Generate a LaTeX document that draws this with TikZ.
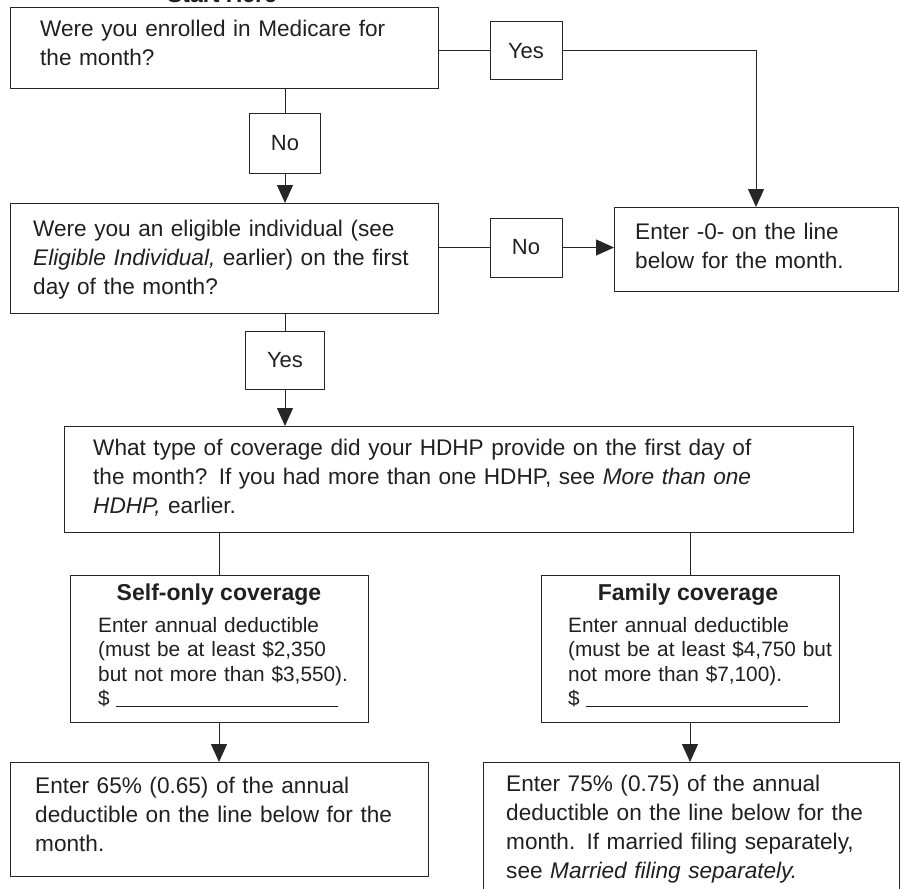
\documentclass[tikz,border=0pt]{standalone}
\usepackage{fontspec}
\setmainfont{Liberation Sans}
\usetikzlibrary{arrows.meta}
\definecolor{ln}{HTML}{262626}
\definecolor{tx}{HTML}{231F20}
\begin{document}
\begin{tikzpicture}[x=1pt,y=-1pt,
  box/.style={draw=ln, line width=1pt, inner sep=0pt, outer sep=0pt, anchor=north west},
  txt/.style={anchor=base west, align=left, text width=820pt, inner sep=0pt, text=tx,
              font=\fontsize{22.6}{29}\selectfont},
  stxt/.style={anchor=base west, align=left, text width=400pt, inner sep=0pt, text=tx,
              font=\fontsize{20.8}{24.5}\selectfont},
  lbl/.style={inner sep=0pt, text=tx, font=\fontsize{22}{26}\selectfont},
  conn/.style={draw=ln, line width=1pt},
  arr/.style={conn, -{Triangle[length=18pt,width=16pt]}}]
\useasboundingbox (0,0) rectangle (901,888);
\fill[white] (0,0) rectangle (901,888);

% start label (cut off at top, as in the reference)
\node[lbl, anchor=base, font=\fontsize{23}{26}\selectfont\bfseries] (start) at (222,3) {Start Here};

% boxes
\node[box, minimum width=428pt, minimum height=81pt] (q1) at (10,8) {};
\node[box, minimum width=72pt, minimum height=58pt] (yes1) at (490,22) {};
\node[box, minimum width=71pt, minimum height=59pt] (no1) at (249.5,114) {};
\node[box, minimum width=428pt, minimum height=110pt] (q2) at (10,203) {};
\node[box, minimum width=72pt, minimum height=59pt] (no2) at (490,218) {};
\node[box, minimum width=284pt, minimum height=84pt] (r0) at (614,207) {};
\node[box, minimum width=79pt, minimum height=58pt] (yes2) at (245.5,331) {};
\node[box, minimum width=789pt, minimum height=106pt] (q3) at (64,426) {};
\node[box, minimum width=298pt, minimum height=147pt] (s1) at (70,575) {};
\node[box, minimum width=298pt, minimum height=147pt] (s2) at (541,575) {};
\node[box, minimum width=418pt, minimum height=114pt] (r1) at (10,762) {};
\node[box, minimum width=416pt, minimum height=140pt] (r2) at (483,762) {};

% box labels
\node[lbl] (yes1t) at (yes1.center) {Yes};
\node[lbl] (no1t) at (no1.center) {No};
\node[lbl] (no2t) at (no2.center) {No};
\node[lbl] (yes2t) at (yes2.center) {Yes};

% texts
\node[txt] (q1t) at (40,37) {Were you enrolled in Medicare for\\the month?};
\node[txt] (q2t) at (33,236) {Were you an eligible individual (see\\\textit{Eligible Individual,} earlier) on the first\\day of the month?};
\node[txt] (r0t) at (635,239) {Enter -0- on the line\\below for the month.};
\node[txt] (q3t) at (93,455) {What type of coverage did your HDHP provide on the first day of\\the month? If you had more than one HDHP, see \textit{More than one}\\\textit{HDHP,} earlier.};
\node[lbl, anchor=base, font=\fontsize{23}{26}\selectfont\bfseries] (s1h) at (219,600) {Self-only coverage};
\node[lbl, anchor=base, font=\fontsize{23}{26}\selectfont\bfseries] (s2h) at (688,600) {Family coverage};
\node[stxt] (s1t) at (98,632) {Enter annual deductible\\(must be at least \$2,350\\but not more than \$3,550).\\\$\hspace{6pt}\rule[-1pt]{222pt}{1pt}};
\node[stxt] (s2t) at (568,632) {Enter annual deductible\\(must be at least \$4,750 but\\not more than \$7,100).\\\$\hspace{6pt}\rule[-1pt]{222pt}{1pt}};
\node[txt] (r1t) at (35,793) {Enter 65\% (0.65) of the annual\\deductible on the line below for the\\month.};
\node[txt] (r2t) at (506,791) {Enter 75\% (0.75) of the annual\\deductible on the line below for the\\month. If married filing separately,\\see \textit{Married filing separately.}};

% connectors
\draw[conn] (q1.south -| no1.north) -- (no1.north);
\draw[arr] (no1.south) -- (no1.south |- q2.north);
\draw[conn] (q1.east |- yes1.west) -- (yes1.west);
\coordinate (c1) at (756,51);
\draw[arr] (yes1.east) -- (c1) -- (c1 |- r0.north);
\draw[conn] (q2.east |- no2.west) -- (no2.west);
\draw[arr] (no2.east) -- (no2.east -| r0.west);
\draw[conn] (q2.south -| yes2.north) -- (yes2.north);
\draw[arr] (yes2.south) -- (yes2.south |- q3.north);
\draw[conn] (q3.south -| s1.north) -- (s1.north);
\draw[conn] (q3.south -| s2.north) -- (s2.north);
\draw[arr] (s1.south) -- (s1.south |- r1.north);
\draw[arr] (s2.south) -- (s2.south |- r2.north);
\end{tikzpicture}
\end{document}
